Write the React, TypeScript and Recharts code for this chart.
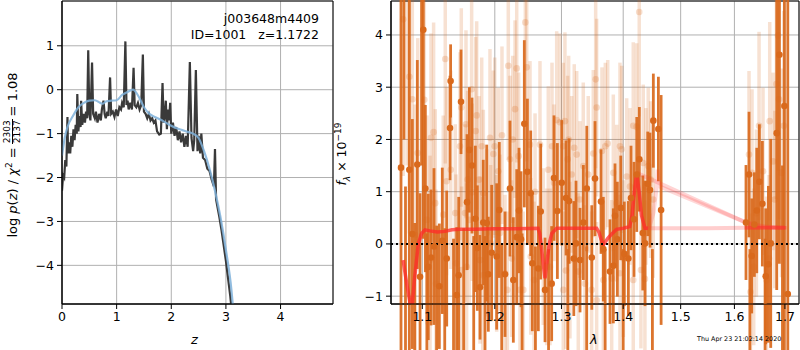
import React from 'react'
import {
  LineChart, ComposedChart, Line, Scatter, ErrorBar, XAxis, YAxis,
  CartesianGrid, ReferenceLine, ReferenceArea,
} from 'recharts'

// ---- left panel: log p(z) ----
const pzZ = [0, 0.02, 0.04, 0.06, 0.08, 0.1, 0.11, 0.13, 0.15, 0.17, 0.19, 0.21, 0.23, 0.25, 0.27, 0.28, 0.3, 0.32, 0.34, 0.35, 0.37, 0.4, 0.42, 0.44, 0.46, 0.48, 0.5, 0.52, 0.55, 0.57, 0.6, 0.62, 0.65, 0.68, 0.71, 0.73, 0.76, 0.78, 0.8, 0.83, 0.85, 0.88, 0.9, 0.93, 0.96, 0.99, 1.02, 1.05, 1.08, 1.1, 1.13, 1.16, 1.18, 1.2, 1.22, 1.25, 1.28, 1.31, 1.33, 1.36, 1.39, 1.42, 1.45, 1.48, 1.5, 1.53, 1.56, 1.59, 1.62, 1.65, 1.68, 1.71, 1.74, 1.78, 1.81, 1.84, 1.86, 1.88, 1.9, 1.92, 1.94, 1.96, 1.98, 2.0, 2.03, 2.06, 2.09, 2.12, 2.15, 2.18, 2.21, 2.24, 2.27, 2.3, 2.34, 2.37, 2.4, 2.42, 2.45, 2.48, 2.5, 2.53, 2.55, 2.58, 2.62, 2.66, 2.7, 2.74, 2.78, 2.8, 2.82, 2.85, 2.88, 2.92, 2.96, 3.0, 3.04, 3.08, 3.1]
const pzLog = [-2.3, -1.95, -2.0, -1.6, -1.75, -0.62, -1.45, -1.2, -1.45, -1.05, -1.3, -0.9, -1.15, -0.8, -1.0, -0.1, -0.95, -0.6, -0.85, -0.25, -0.8, -0.55, -0.75, -0.5, -0.65, 0.9, -0.55, -0.7, 0.62, -0.55, -0.65, -0.5, -0.75, -0.55, -0.7, -0.45, -0.25, -0.55, -0.65, -0.5, -0.6, 0.28, -0.55, -0.5, -0.62, -0.45, -0.6, -0.4, -0.45, -0.3, -0.4, 1.1, -0.35, -0.25, -0.45, -0.3, -0.45, 0.5, -0.35, -0.4, -0.3, -0.45, -0.35, 0.8, -0.5, -0.55, -0.65, -0.55, -0.7, -0.65, -0.75, -0.7, -0.95, -1.02, -1.0, 0.15, -0.75, -0.6, -0.25, -0.9, -0.45, -0.7, -0.3, -1.0, -0.75, -1.05, -0.85, -1.15, -0.95, -1.2, -1.0, -1.3, -1.05, -1.3, 0.63, -1.1, -1.4, -1.15, 0.45, -1.4, -1.05, -1.45, -1.0, -1.55, -1.6, -1.8, -1.85, -2.05, -2.2, -1.35, -2.5, -2.7, -2.9, -3.2, -3.55, -3.9, -4.3, -4.7, -4.95]

const priorZ = [0, 0.05, 0.1, 0.2, 0.3, 0.4, 0.5, 0.6, 0.7, 0.75, 0.8, 0.9, 1.0, 1.1, 1.2, 1.3, 1.4, 1.5, 1.6, 1.7, 1.8, 1.9, 2.0, 2.1, 2.2, 2.3, 2.4, 2.5, 2.6, 2.7, 2.8, 2.9, 3.0, 3.1, 3.13]
const priorLog = [-1.5, -1.1, -0.85, -0.6, -0.4, -0.3, -0.25, -0.24, -0.3, -0.32, -0.27, -0.25, -0.24, -0.12, -0.05, 0.0, -0.15, -0.4, -0.55, -0.62, -0.68, -0.75, -0.82, -0.88, -0.92, -0.96, -1.0, -1.1, -1.4, -1.8, -2.3, -2.9, -3.65, -4.55, -4.95]

// ---- right panel: spectrum ----
const darkWave = [1.0722, 1.076, 1.078, 1.083, 1.0869, 1.09, 1.0934, 1.097, 1.099, 1.1013, 1.104, 1.106, 1.1079, 1.1116, 1.1155, 1.119, 1.1227, 1.1267, 1.13, 1.1327, 1.1372, 1.138, 1.142, 1.1464, 1.1491, 1.1523, 1.156, 1.1607, 1.1639, 1.1676, 1.17, 1.1723, 1.1751, 1.1789, 1.1835, 1.186, 1.1884, 1.1907, 1.1955, 1.2027, 1.2065, 1.21, 1.2148, 1.2221, 1.227, 1.232, 1.2354, 1.2384, 1.24, 1.2433, 1.2479, 1.2529, 1.2553, 1.26, 1.2644, 1.268, 1.2746, 1.28, 1.2848, 1.2884, 1.2936, 1.3004, 1.3072, 1.31, 1.3119, 1.3194, 1.3229, 1.3293, 1.3346, 1.34, 1.3401, 1.3482, 1.3534, 1.3632, 1.367, 1.37, 1.378, 1.3835, 1.3863, 1.3902, 1.3959, 1.4, 1.4019, 1.4087, 1.4132, 1.4183, 1.423, 1.4274, 1.4333, 1.4372, 1.4419, 1.4458, 1.45, 1.4516, 1.4604, 1.4652, 1.6224, 1.6283, 1.63, 1.6336, 1.6388, 1.6435, 1.6487, 1.6546, 1.66, 1.6613, 1.6666, 1.6713, 1.6834, 1.6888, 1.695, 1.6989, 1.7059]
const darkFlux = [1.46, 5.0, -1.4, 1.42, 0.19, -1.6, 1.52, -0.63, 5.5, 4.1, 1.06, -1.3, -0.44, -0.26, -0.05, -1.25, -0.81, 0.06, -1.5, -0.28, 2.22, 3.12, -1.3, -0.98, -0.6, 2.72, -1.2, 0.8, 1.8, 1.5, -1.35, 0.48, -0.08, -0.83, 0.41, -1.25, 0.4, -0.58, -0.17, -0.24, 0.65, -1.3, -0.58, 1.06, -0.69, 0.13, 0.64, 0.09, -1.2, 2.3, 1.38, 0.97, -0.37, -1.25, -0.47, 0.62, -0.88, -1.3, -0.76, 1.26, 0.63, 1.17, 0.88, -1.2, 0.82, -0.28, 0.01, -0.31, 0.41, -1.25, 1.06, -0.26, 1.25, 0.81, -0.1, -1.2, -0.53, -0.42, 0.54, 0.09, 0.69, -1.3, -0.19, -0.28, 0.88, 0.47, 1.33, 1.62, 0.21, 0.01, 1.15, 1.03, -1.4, 2.36, 2.2, 0.65, 0.41, 1.33, -1.3, -0.23, 0.37, 0.64, 1.19, 0.77, -1.2, -0.62, -0.39, 0.01, 2.12, 3.62, -1.5, 2.64, -0.96]
const darkErr = [5, 3, 2.5, 5, 2.2, 2.0, 2.0, 1.6, 4, 4, 1.6, 1.5, 1.4, 1.3, 1.5, 1.6, 1.2, 1.4, 1.8, 1.3, 1.0, 0.7, 1.4, 1.3, 1.5, 1.0, 1.5, 1.3, 1.2, 1.3, 1.5, 1.4, 1.2, 1.0, 1.2, 1.4, 1.5, 1.1, 1.3, 1.4, 1.3, 1.3, 1.2, 1.3, 1.2, 1.3, 1.2, 1.3, 1.4, 1.6, 1.4, 1.2, 1.3, 1.2, 1.2, 1.3, 1.0, 1.2, 1.1, 1.2, 1.3, 1.2, 1.1, 1.1, 1.2, 1.1, 1.2, 1.0, 1.1, 1.2, 1.2, 1.0, 1.1, 1.0, 1.0, 1.1, 1.0, 1.1, 1.0, 1.1, 1.0, 1.2, 1.0, 1.1, 1.0, 1.1, 1.1, 1.0, 1.1, 1.2, 1.0, 1.1, 1.3, 0.9, 1.0, 2.2, 1.1, 1.2, 1.2, 1.1, 1.0, 1.2, 1.1, 1.2, 1.3, 1.3, 1.5, 2.0, 3, 4, 3, 5, 6]

const lightWave = [1.075, 1.08, 1.083, 1.0869, 1.0904, 1.094, 1.1026, 1.1062, 1.1102, 1.1115, 1.115, 1.1172, 1.1182, 1.128, 1.1307, 1.1325, 1.1382, 1.1444, 1.1454, 1.1509, 1.1527, 1.1532, 1.1578, 1.1592, 1.1601, 1.1615, 1.1637, 1.1671, 1.168, 1.1728, 1.1742, 1.1775, 1.1789, 1.1813, 1.1827, 1.1836, 1.1884, 1.1931, 1.1941, 1.1979, 1.1999, 1.2027, 1.205, 1.2075, 1.2104, 1.2148, 1.2182, 1.2196, 1.2221, 1.2246, 1.2261, 1.2295, 1.232, 1.2349, 1.2368, 1.2418, 1.2448, 1.2469, 1.2518, 1.2529, 1.2579, 1.2594, 1.2669, 1.2719, 1.2771, 1.2796, 1.2822, 1.2853, 1.2884, 1.2926, 1.2976, 1.3028, 1.3028, 1.3054, 1.307, 1.3097, 1.3113, 1.3133, 1.316, 1.3201, 1.324, 1.3265, 1.3292, 1.3345, 1.3372, 1.3425, 1.3479, 1.3506, 1.3545, 1.3561, 1.3561, 1.3648, 1.367, 1.3703, 1.3742, 1.3808, 1.3835, 1.3891, 1.3946, 1.3946, 1.3975, 1.4003, 1.4059, 1.4114, 1.417, 1.417, 1.4228, 1.4272, 1.4301, 1.4341, 1.437, 1.4387, 1.4427, 1.4469, 1.4514, 1.6283, 1.6311, 1.6342, 1.6375, 1.6428, 1.648, 1.6559, 1.6627, 1.6679, 1.6693, 1.676, 1.6794, 1.6828, 1.6861, 1.6881, 1.693, 1.6977]
const lightFlux = [4.3, 5.0, 3.2, 2.77, 0.17, 1.74, 2.76, 0.46, -0.31, 2.03, 2.14, 0.78, -0.76, 0.56, 3.54, 1.2, 1.42, 0.59, -0.37, 1.87, 2.61, -0.5, 0.59, 2.29, -0.44, 1.23, 0.46, 2.96, 0.99, 2.16, 2.46, 1.23, -0.31, 1.87, -0.6, 0.97, 0.21, 2.03, 0.01, 1.72, 1.87, -0.18, 1.39, 0.21, 2.08, -0.56, -0.88, 3.41, 1.62, -0.28, 2.0, 2.58, 3.36, 1.68, -0.88, -0.88, 4.24, 3.38, 1.9, -0.24, -0.69, 1.0, 1.9, -0.05, -0.44, 1.42, -0.44, 1.87, 1.17, 2.37, 2.33, 1.87, -0.88, 2.35, -0.51, 1.62, 2.0, -0.31, 1.33, 1.84, 1.71, -0.53, 0.85, 1.49, -0.76, 1.33, -0.88, 1.73, 3.15, 2.61, -1.08, 1.78, -0.69, 1.87, 1.92, -0.66, 1.36, 0.78, 1.87, -0.56, 1.81, -0.28, 1.29, 1.1, 2.26, -0.69, 2.24, 4.44, -0.5, 1.55, -0.67, 1.1, 1.49, 1.23, 0.85, 1.71, -0.92, 1.36, -0.44, 0.59, 2.26, 1.39, -0.69, -0.28, 2.35, 1.58, 0.85, 3.06, 3.99, 2.77, 1.36, 2.26]
const lightErr = [3, 3.5, 3, 2.8, 2.5, 2.2, 2.4, 2.0, 2.0, 2.0, 2.1, 1.8, 1.8, 1.9, 2.0, 1.8, 1.9, 1.7, 1.7, 1.8, 1.9, 1.6, 1.7, 1.8, 1.6, 1.7, 1.6, 1.9, 1.7, 1.8, 1.8, 1.6, 1.6, 1.7, 1.5, 1.6, 1.6, 1.7, 1.5, 1.6, 1.7, 1.5, 1.6, 1.5, 1.7, 1.5, 1.5, 1.8, 1.6, 1.5, 1.6, 1.7, 1.8, 1.6, 1.5, 1.5, 2.0, 1.8, 1.6, 1.5, 1.5, 1.5, 1.6, 1.5, 1.5, 1.6, 1.5, 1.6, 1.5, 1.7, 1.7, 1.6, 1.5, 1.7, 1.5, 1.6, 1.6, 1.5, 1.5, 1.6, 1.6, 1.5, 1.5, 1.6, 1.5, 1.5, 1.5, 1.6, 1.7, 1.7, 1.5, 1.6, 1.5, 1.6, 1.6, 1.5, 1.5, 1.5, 1.6, 1.5, 1.6, 1.5, 1.5, 1.5, 1.6, 1.5, 1.6, 2.0, 1.5, 1.5, 1.5, 1.5, 1.5, 1.5, 1.5, 1.6, 1.5, 1.6, 1.5, 1.6, 1.8, 1.6, 1.6, 1.6, 1.9, 1.7, 1.7, 2.2, 2.6, 2.3, 2.0, 2.2]

// red model, main grism
const modelWave = [1.0749, 1.08, 1.086, 1.0895, 1.0947, 1.099, 1.1036, 1.11, 1.12, 1.13, 1.14, 1.15, 1.17, 1.2, 1.23, 1.264, 1.2665, 1.269, 1.272, 1.2746, 1.278, 1.281, 1.285, 1.2926, 1.32, 1.356, 1.36, 1.3635, 1.367, 1.371, 1.374, 1.38, 1.389, 1.4, 1.411, 1.415, 1.419, 1.423, 1.427, 1.431, 1.437, 1.442]
const modelFlux = [-0.31, -0.8, -1.3, -0.7, 0.0, 0.2, 0.27, 0.25, 0.23, 0.24, 0.27, 0.28, 0.28, 0.29, 0.29, 0.3, 0.2, -0.05, -0.4, -0.66, -0.3, 0.0, 0.2, 0.3, 0.3, 0.3, 0.22, 0.08, -0.02, 0.05, 0.1, 0.18, 0.28, 0.3, 0.33, 0.55, 1.0, 1.36, 1.0, 0.55, 0.3, 0.3]
// faint overlapping model traces (other orders)
const flatWave = [1.437, 1.55, 1.62, 1.7]
const flatFlux = [0.3, 0.3, 0.31, 0.31]
const diagWave = [1.423, 1.6224, 1.66, 1.7]
const diagFlux = [1.36, 0.41, 0.33, 0.31]
const diag2Wave = [1.444, 1.452, 1.457, 1.459, 1.462, 1.64, 1.7]
const diag2Flux = [0.3, 0.6, 1.05, 1.42, 1.1, 0.34, 0.31]
const redEndWave = [1.62, 1.66, 1.703]
const redEndFlux = [0.31, 0.31, 0.31]

const zTicks = [0, 1, 2, 3, 4]
const pzTicks = [1, 0, -1, -2, -3, -4]
const lamTicks = [1.1, 1.2, 1.3, 1.4, 1.5, 1.6, 1.7]
const fluxTicks = [4, 3, 2, 1, 0, -1]

const zip = (xs: number[], ys: number[]) => xs.map((x, i) => ({ x, y: ys[i] }))
const zip3 = (xs: number[], ys: number[], es: number[]) => xs.map((x, i) => ({ x, y: ys[i], err: es[i] }))

const FONT = 'DejaVu Sans, sans-serif'
const tickStyle = { fill: '#000', fontSize: 12.5, fontFamily: FONT }
const minus = (v: number) => (v < 0 ? '\u2212' + Math.abs(v) : String(v))
const ORANGE = '#d9691c'

export default function App() {
  const pzData = zip(pzZ, pzLog)
  const priorData = zip(priorZ, priorLog)
  const dark = zip3(darkWave, darkFlux, darkErr)
  const light = zip3(lightWave, lightFlux, lightErr)

  return (
    <div style={{ position: 'absolute', left: 0, top: 0, width: 800, height: 350, background: '#fff', color: '#000', fontFamily: FONT, overflow: 'hidden' }}>
      <div style={{ position: 'absolute', left: 0, top: 0 }}>
        <LineChart width={340} height={350} margin={{ top: 1, right: 7, bottom: 16, left: 32 }}>
          <CartesianGrid stroke="#b0b0b0" strokeWidth={1} />
          <XAxis type="number" dataKey="x" domain={[0, 4.96]} ticks={zTicks} allowDataOverflow
            height={30} tick={tickStyle} tickSize={5} tickMargin={3} stroke="#000" />
          <YAxis type="number" dataKey="y" domain={[-4.88, 2.02]} ticks={pzTicks} allowDataOverflow
            width={30} tick={tickStyle} tickSize={5} tickMargin={3} tickFormatter={minus} stroke="#000" />
          <Line data={pzData} dataKey="y" type="linear" dot={false} stroke="#2f2f2f" strokeWidth={2.2}
            strokeOpacity={0.95} isAnimationActive={false} />
          <Line data={priorData} dataKey="y" type="monotone" dot={false} stroke="#7fb2da" strokeWidth={2.2}
            strokeOpacity={0.85} isAnimationActive={false} />
          <ReferenceArea x1={0} x2={4.96} y1={-4.88} y2={2.02} fill="none" stroke="#000" strokeWidth={1} fillOpacity={0} />
        </LineChart>
      </div>

      <div style={{ position: 'absolute', left: 340, top: 0 }}>
        <ComposedChart width={460} height={350} margin={{ top: 1, right: 1, bottom: 16, left: 26 }}>
          <CartesianGrid stroke="#b0b0b0" strokeWidth={1} />
          <XAxis type="number" dataKey="x" scale="log" domain={[1.0594, 1.729]} ticks={lamTicks} allowDataOverflow
            height={30} tick={tickStyle} tickSize={5} tickMargin={3} tickFormatter={(v: number) => v.toFixed(1)} stroke="#000" />
          <YAxis type="number" dataKey="y" domain={[-1.15, 4.65]} ticks={fluxTicks} allowDataOverflow
            width={25} tick={tickStyle} tickSize={5} tickMargin={3} tickFormatter={minus} stroke="#000" />
          <Scatter data={light} dataKey="y" isAnimationActive={false}
            shape={(p: any) => <circle cx={p.cx} cy={p.cy} r={3.3} fill={ORANGE} fillOpacity={0.22} />}>
            <ErrorBar dataKey="err" direction="y" width={0} stroke={ORANGE} strokeWidth={3.5} strokeOpacity={0.2} isAnimationActive={false} />
          </Scatter>
          <Scatter data={dark} dataKey="y" isAnimationActive={false}
            shape={(p: any) => <circle cx={p.cx} cy={p.cy} r={3.3} fill={ORANGE} />}>
            <ErrorBar dataKey="err" direction="y" width={0} stroke={ORANGE} strokeWidth={2.8} strokeOpacity={0.92} isAnimationActive={false} />
          </Scatter>
          <Line data={zip(flatWave, flatFlux)} dataKey="y" dot={false} stroke="#ff3b3b" strokeWidth={4} strokeOpacity={0.25} isAnimationActive={false} />
          <Line data={zip(diagWave, diagFlux)} dataKey="y" dot={false} stroke="#ff3b3b" strokeWidth={4} strokeOpacity={0.22} isAnimationActive={false} />
          <Line data={zip(diag2Wave, diag2Flux)} dataKey="y" dot={false} stroke="#ff3b3b" strokeWidth={4} strokeOpacity={0.2} isAnimationActive={false} />
          <Line data={zip(redEndWave, redEndFlux)} dataKey="y" dot={false} stroke="#ff2a2a" strokeWidth={3.5} strokeOpacity={0.45} isAnimationActive={false} />
          <Line data={zip(modelWave, modelFlux)} dataKey="y" dot={false} stroke="#ff2a2a" strokeWidth={3.5} strokeOpacity={0.75} isAnimationActive={false} />
          <ReferenceLine y={0} stroke="#000" strokeWidth={2} strokeDasharray="2 3" />
          <ReferenceArea x1={1.0594} x2={1.729} y1={-1.15} y2={4.65} fill="none" stroke="#000" strokeWidth={1} fillOpacity={0} />
        </ComposedChart>
      </div>

      {/* annotations */}
      <div style={{ position: 'absolute', right: 800 - 319, top: 11, fontSize: 12.5, lineHeight: '16px', textAlign: 'right', whiteSpace: 'pre' }}>
        {'j003648m4409\nID=1001   z=1.1722'}
      </div>

      <div style={{ position: 'absolute', left: 12 - 110, top: 155 - 12, width: 220, height: 24, transform: 'rotate(-90deg)',
        display: 'flex', alignItems: 'center', justifyContent: 'center', fontSize: 13, whiteSpace: 'nowrap' }}>
        <span>log <i>p</i>(<i>z</i>) / <i>χ</i><sup style={{ fontSize: 9 }}>2</sup> = </span>
        <span style={{ display: 'inline-flex', flexDirection: 'column', alignItems: 'center', fontSize: 9, lineHeight: '9px', margin: '0 3px' }}>
          <span style={{ borderBottom: '1px solid #000', padding: '0 1px' }}>2303</span>
          <span>2137</span>
        </span>
        <span> = 1.08</span>
      </div>

      <div style={{ position: 'absolute', left: 342 - 60, top: 154 - 12, width: 120, height: 24, transform: 'rotate(-90deg)',
        display: 'flex', alignItems: 'center', justifyContent: 'center', fontSize: 12.5, whiteSpace: 'nowrap' }}>
        <span><i>f</i><sub style={{ fontSize: 9 }}><i>λ</i></sub> × 10<sup style={{ fontSize: 9 }}>−19</sup></span>
      </div>

      <div style={{ position: 'absolute', left: 191, top: 332, fontSize: 13, fontStyle: 'italic' }}>z</div>
      <div style={{ position: 'absolute', left: 590, top: 332, fontSize: 13, fontStyle: 'italic' }}>λ</div>
      <div style={{ position: 'absolute', left: 697, top: 335, fontSize: 6.4, color: '#000', whiteSpace: 'nowrap' }}>Thu Apr 23 21:02:14 2020</div>
    </div>
  )
}
